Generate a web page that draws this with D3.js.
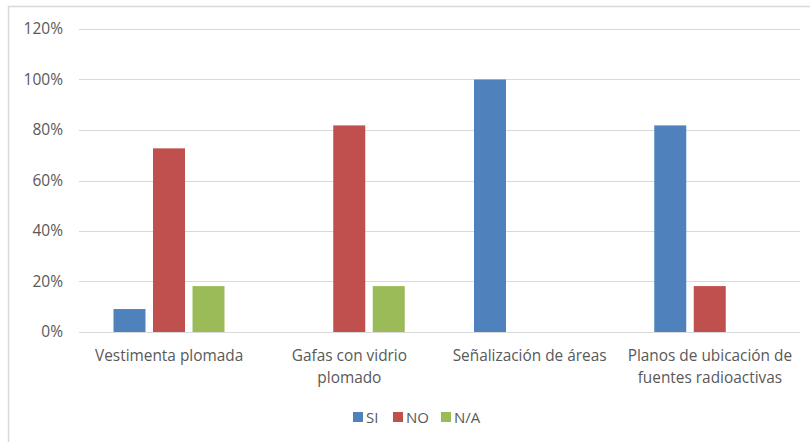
<!DOCTYPE html>
<html><head><meta charset="utf-8">
<script src="https://cdn.jsdelivr.net/npm/d3@7"></script>
<style>body{margin:0;background:#fff}svg{display:block}text{font-family:"Open Sans","Liberation Sans",sans-serif;fill:#595959}</style>
</head><body><svg id="c" width="810" height="442"></svg>
<script>
const categories = [["Vestimenta plomada"], ["Gafas con vidrio", "plomado"], ["Señalización de áreas"], ["Planos de ubicación de", "fuentes radioactivas"]];
const seriesNames = ["SI", "NO", "N/A"];
const seriesColors = ["#4F81BD", "#C0504D", "#9BBB59"];
const siValues = [0.0909, 0, 1.0, 0.8182];
const noValues = [0.7273, 0.8182, 0, 0.1818];
const naValues = [0.1818, 0.1818, 0, 0];
const yTicks = [0, 0.2, 0.4, 0.6, 0.8, 1.0, 1.2];

(function(){
const svg = d3.select("#c");
svg.append("path").attr("d", "M8.5,442 L8.5,6.5 L810,6.5").attr("fill","none").attr("stroke","#d9d9d9").attr("stroke-width",1.5);

const pL = 79, pR = 800, pT = 29, pB = 332;
const x = d3.scaleBand().domain(d3.range(categories.length)).range([pL, pR]).paddingInner(0).paddingOuter(0);
const x1 = d3.scaleBand().domain(seriesNames).range([34.5, 34.5 + 111]).paddingInner(0.19);
const y = d3.scaleLinear().domain([0, 1.2]).range([pB, pT]);

svg.append("g").selectAll("line").data(yTicks).join("line")
  .attr("x1", pL).attr("x2", pR)
  .attr("y1", d => Math.round(y(d)) + 0.5).attr("y2", d => Math.round(y(d)) + 0.5)
  .attr("stroke", "#d9d9d9").attr("stroke-width", 1);

const yAxis = d3.axisLeft(y).tickValues(yTicks).tickFormat(d3.format(".0%")).tickSize(0).tickPadding(0);
const ya = svg.append("g").attr("transform", `translate(${pL-16},0)`).call(yAxis);
ya.select(".domain").remove();
ya.selectAll("text").attr("font-size", 15.5).attr("fill", "#595959").style("font-family", '"Open Sans","Liberation Sans",sans-serif');

const allSeries = [siValues, noValues, naValues];
allSeries.forEach((vals, si) => {
  svg.append("g").selectAll("rect").data(vals).join("rect")
    .attr("x", (d, i) => x(i) + x1(seriesNames[si]))
    .attr("width", x1.bandwidth())
    .attr("y", d => y(d))
    .attr("height", d => y(0) - y(d))
    .attr("fill", seriesColors[si]);
});

const cl = svg.append("g");
categories.forEach((lines, i) => {
  const t = cl.append("text").attr("x", x(i) + x.bandwidth()/2).attr("y", 361)
    .attr("text-anchor", "middle").attr("font-size", 15.4);
  lines.forEach((ln, j) => t.append("tspan").attr("x", x(i) + x.bandwidth()/2).attr("dy", j ? 22 : 0).text(ln));
});

const lg = svg.append("g");
const legX = [353, 393, 441];
seriesNames.forEach((n, i) => {
  lg.append("rect").attr("x", legX[i]).attr("y", 412).attr("width", 10).attr("height", 10).attr("fill", seriesColors[i]);
  lg.append("text").attr("x", legX[i] + 13).attr("y", 422.5).attr("font-size", 15).text(n);
});
})();
</script></body></html>
